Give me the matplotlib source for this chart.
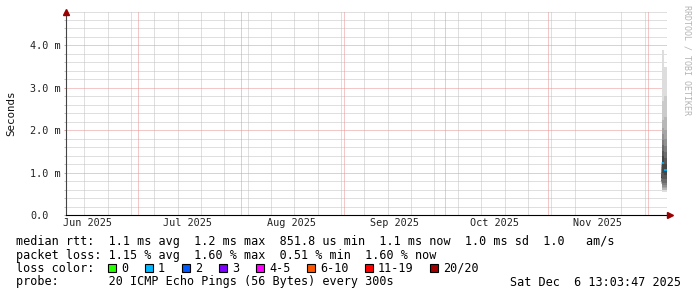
import matplotlib
matplotlib.use('Agg')
import matplotlib.pyplot as plt
import matplotlib.dates as mdates
from matplotlib.patches import Rectangle
from matplotlib.ticker import FixedLocator, MultipleLocator
import numpy as np
from datetime import datetime, timedelta

W, H = 697, 297
MONO = 'DejaVu Sans Mono'

# time span of the graph
graph_end = datetime(2025, 12, 6, 13, 3, 47)
graph_days = 180

month_firsts = ["2025-06-01", "2025-07-01", "2025-08-01", "2025-09-01",
                "2025-10-01", "2025-11-01", "2025-12-01"]
month_labels = ["Jun 2025", "Jul 2025", "Aug 2025", "Sep 2025", "Oct 2025", "Nov 2025"]

ytick_vals = [0, 1, 2, 3, 4]
ytick_labels = ["0.0", "1.0 m", "2.0 m", "3.0 m", "4.0 m"]

# consolidated slots near the end of the period (only data there)
slot_starts = ["2025-12-04 19:00", "2025-12-05 05:00", "2025-12-05 19:00"]
median_ms = [0.85, 1.23, 1.06]
loss_pct = [0.51, 1.15, 1.60]
pings_ms = [
    [0.72, 0.74, 0.76, 0.78, 0.79, 0.80, 0.81, 0.82, 0.83, 0.84,
     0.86, 0.90, 0.96, 1.02, 1.08, 1.13, 1.17, 1.20, 1.23, 1.26],
    [0.55, 0.58, 0.60, 0.63, 0.66, 0.70, 0.75, 0.85, 1.00, 1.20,
     1.26, 1.40, 1.52, 1.64, 1.76, 1.90, 2.05, 2.25, 2.70, 3.90],
    [0.55, 0.58, 0.60, 0.63, 0.66, 0.70, 0.76, 0.84, 0.95, 1.04,
     1.08, 1.20, 1.34, 1.48, 1.62, 1.80, 2.00, 2.30, 2.80, 3.50],
]
n_pings = 20

loss_names = ["0", "1", "2", "3", "4-5", "6-10", "11-19", "20/20"]
loss_limits = [0, 1, 2, 3, 5, 10, 19, 20]
loss_colors = ['#26ff00', '#00b8ff', '#0059ff', '#7e00ff',
               '#ff00ff', '#ff5500', '#ff0000', '#a00000']

legend_rtt = "median rtt:  1.1 ms avg  1.2 ms max  851.8 us min  1.1 ms now  1.0 ms sd  1.0   am/s"
legend_loss = "packet loss: 1.15 % avg  1.60 % max  0.51 % min  1.60 % now"
legend_probe = "probe:       20 ICMP Echo Pings (56 Bytes) every 300s"
legend_date = "Sat Dec  6 13:03:47 2025"

GRID = '#c0c0c0'
MGRID = '#e69090'
DOTS = (0, (1, 1))


def fx(x):
    return x / W


def fy(y):
    return 1 - y / H


fig = plt.figure(figsize=(W / 100, H / 100), dpi=100)
fig.patch.set_facecolor('white')
ax = fig.add_axes([fx(66), fy(215), 600.5 / W, 203.5 / H])

start = graph_end - timedelta(days=graph_days)
ax.set_xlim(start, graph_end)
ax.set_ylim(0, 4.8)

# smoke + median
t_edges = [mdates.datestr2num(s) for s in slot_starts] + [mdates.date2num(graph_end)]
half = n_pings // 2
for s in range(len(slot_starts)):
    t0, t1 = t_edges[s], t_edges[s + 1]
    p = sorted(pings_ms[s])
    for k in range(half):
        g = int(221 - 171 * k / (half - 1))
        ax.bar(t0, p[n_pings - 1 - k] - p[k], bottom=p[k], width=t1 - t0,
               align='edge', color='#%02x%02x%02x' % (g, g, g), linewidth=0, zorder=2)
    lost = loss_pct[s] * n_pings / 100.0
    ci = int(np.searchsorted(loss_limits, lost, side='left'))
    ax.hlines(median_ms[s], t0, t1, colors=loss_colors[ci], linewidth=1.2, zorder=3)

# y grid
ax.yaxis.set_major_locator(FixedLocator(ytick_vals))
ax.set_yticklabels(ytick_labels)
ax.yaxis.set_minor_locator(MultipleLocator(0.2))
ax.grid(which='minor', axis='y', color=GRID, linestyle=DOTS, linewidth=0.72, zorder=1)
ax.grid(which='major', axis='y', color=MGRID, linestyle=DOTS, linewidth=0.72, zorder=1)

# x grid: weeks (minor) and months (major lines)
weeks = mdates.drange(datetime(2025, 6, 15), datetime(2025, 12, 6), timedelta(days=7))
ax.set_xticks(weeks, minor=True)
ax.grid(which='minor', axis='x', color=GRID, linestyle=DOTS, linewidth=0.72, zorder=1)
for m in month_firsts:
    ax.axvline(mdates.datestr2num(m), color=MGRID, linestyle=DOTS, linewidth=0.72, zorder=1)

label_pos = [mdates.datestr2num(m) + 15 for m in month_firsts[:len(month_labels)]]
ax.set_xticks(label_pos)
ax.set_xticklabels(month_labels)

ax.tick_params(axis='x', which='major', length=0, pad=2.5, labelsize=7.3, labelcolor='#222222')
ax.tick_params(axis='x', which='minor', length=0)
ax.tick_params(axis='y', which='both', length=1.5, width=0.72, pad=24.5,
               labelsize=7.3, labelcolor='#222222')
ax.tick_params(axis='y', which='major', color=MGRID)
ax.tick_params(axis='y', which='minor', color=GRID)
for lab in ax.get_xticklabels():
    lab.set_family(MONO)
for lab in ax.get_yticklabels():
    lab.set_family(MONO)
    lab.set_horizontalalignment('left')

for side in ['top', 'right']:
    ax.spines[side].set_visible(False)
ax.spines['left'].set_color('#444444')
ax.spines['bottom'].set_color('#000000')
ax.spines['left'].set_linewidth(0.8)
ax.spines['bottom'].set_linewidth(0.8)
ax.set_axisbelow(True)

# axis arrows
ax.plot([0], [1.0], marker='^', color='#990000', markersize=4, transform=ax.transAxes,
        clip_on=False, zorder=5)
ax.plot([1.006], [0], marker='>', color='#990000', markersize=4, transform=ax.transAxes,
        clip_on=False, zorder=5)

ax.set_ylabel("Seconds", family=MONO, fontsize=7.8, color='#111111')
ax.yaxis.set_label_coords((16 - 66) / 600.5, 0.5)

# watermark
fig.text(fx(687), fy(60), "RRDTOOL / TOBI OETIKER", rotation=-90, family=MONO,
         fontsize=6.0, color='#b4b4b4', ha='center', va='center')

# legend
fs = 8.43
char_w = 7.0
fig.text(fx(16), fy(241), legend_rtt, family=MONO, fontsize=fs, va='center')
fig.text(fx(16), fy(255), legend_loss, family=MONO, fontsize=fs, va='center')
fig.text(fx(16), fy(268), "loss color:", family=MONO, fontsize=fs, va='center')
bx = 108
for name, col in zip(loss_names, loss_colors):
    fig.patches.append(Rectangle((fx(bx), fy(272)), 8 / W, 8 / H, transform=fig.transFigure,
                                 facecolor=col, edgecolor='black', linewidth=0.8))
    fig.text(fx(bx + 13), fy(268), name, family=MONO, fontsize=fs, va='center')
    bx += 37 + char_w * (len(name) - 1)
fig.text(fx(16), fy(282), legend_probe, family=MONO, fontsize=fs, va='center')
fig.text(fx(681.5), fy(282), legend_date, family=MONO, fontsize=fs, va='center', ha='right')

fig.savefig('out.png', dpi=100, facecolor='white')
